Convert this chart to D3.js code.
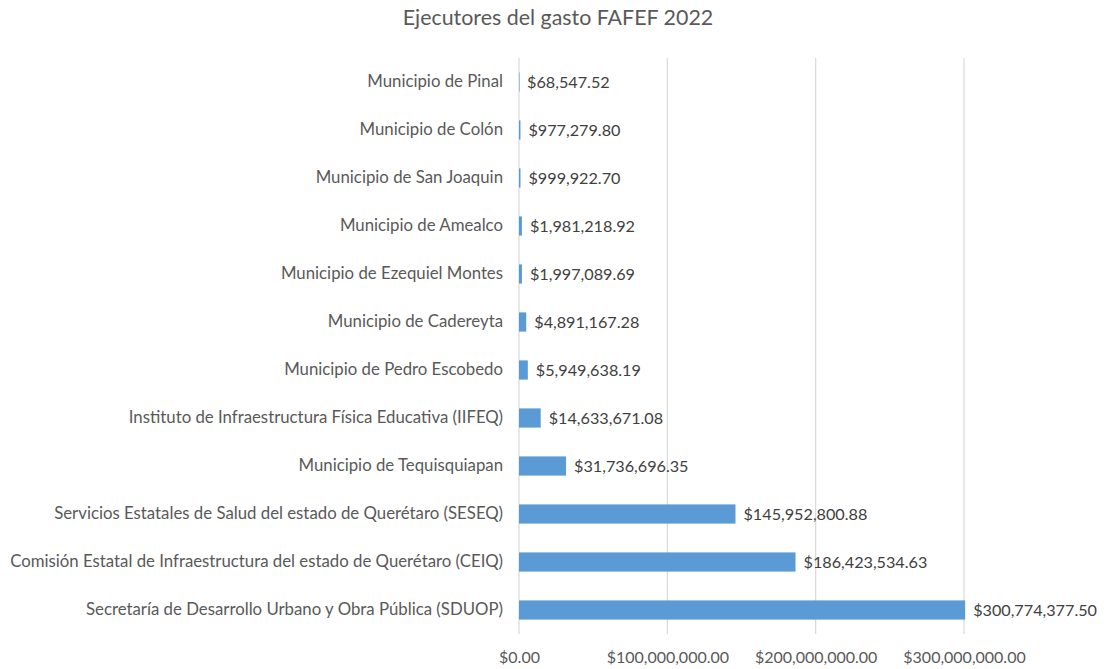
<!DOCTYPE html>
<html>
<head>
<meta charset="utf-8">
<script src="https://cdn.jsdelivr.net/npm/d3@7"></script>
<style>
  body { margin: 0; background: #fff; }
  svg { font-family: Lato, "Open Sans", sans-serif; }
</style>
</head>
<body>
<svg id="chart"></svg>
<script>
const categories = [
  "Municipio de Pinal",
  "Municipio de Colón",
  "Municipio de San Joaquin",
  "Municipio de Amealco",
  "Municipio de Ezequiel Montes",
  "Municipio de Cadereyta",
  "Municipio de Pedro Escobedo",
  "Instituto de Infraestructura Física Educativa (IIFEQ)",
  "Municipio de Tequisquiapan",
  "Servicios Estatales de Salud del estado de Querétaro (SESEQ)",
  "Comisión Estatal de Infraestructura del estado de Querétaro (CEIQ)",
  "Secretaría de Desarrollo Urbano y Obra Pública (SDUOP)"
];
const values = [
  68547.52, 977279.80, 999922.70, 1981218.92, 1997089.69, 4891167.28,
  5949638.19, 14633671.08, 31736696.35, 145952800.88, 186423534.63, 300774377.50
];
const xTicks = [0, 100000000, 200000000, 300000000];

const W = 1107, H = 669;
const margin = { top: 58, left: 519, right: 0, bottom: 35 };
const plotRight = 964;

const svg = d3.select("#chart").attr("width", W).attr("height", H);

const x = d3.scaleLinear().domain([0, 300000000]).range([margin.left, plotRight]);
const y = d3.scaleBand().domain(categories).range([margin.top, H - margin.bottom])
  .paddingInner(0.6).paddingOuter(0.3);

const money = d3.format(",.2f");

svg.append("text")
  .attr("x", 558).attr("y", 25)
  .attr("text-anchor", "middle")
  .attr("font-size", 21.4)
  .attr("fill", "#595959")
  .text("Ejecutores del gasto FAFEF 2022");

// gridlines
svg.append("g")
  .selectAll("line")
  .data(xTicks)
  .join("line")
  .attr("x1", d => x(d)).attr("x2", d => x(d))
  .attr("y1", margin.top).attr("y2", H - margin.bottom)
  .attr("stroke", "#d9d9d9").attr("stroke-width", 1.2);

// x axis labels
const xAxis = d3.axisBottom(x).tickValues(xTicks).tickSize(0).tickPadding(0)
  .tickFormat(d => "$" + money(d));
const gx = svg.append("g")
  .attr("transform", `translate(0,${H - 6})`)
  .call(xAxis);
gx.select(".domain").remove();
gx.selectAll("text").attr("font-size", 16).attr("fill", "#595959")
  .attr("font-family", "Lato, 'Open Sans', sans-serif").attr("dy", 0);

// category labels
const yAxis = d3.axisLeft(y).tickSize(0).tickPadding(16);
const gy = svg.append("g")
  .attr("transform", `translate(${margin.left},0)`)
  .call(yAxis);
gy.select(".domain").remove();
gy.selectAll("text").attr("font-size", 16.8).attr("fill", "#595959")
  .attr("font-family", "Lato, 'Open Sans', sans-serif");

// bars
svg.append("g")
  .selectAll("rect")
  .data(values)
  .join("rect")
  .attr("x", x(0))
  .attr("y", (d, i) => y(categories[i]))
  .attr("width", d => Math.max(x(d) - x(0), 0.5))
  .attr("height", y.bandwidth())
  .attr("fill", "#5B9BD5");

// value labels
svg.append("g")
  .selectAll("text")
  .data(values)
  .join("text")
  .attr("x", d => x(d) + 8)
  .attr("y", (d, i) => y(categories[i]) + y.bandwidth() / 2)
  .attr("dy", "0.35em")
  .attr("font-size", 16.2)
  .attr("fill", "#404040")
  .text(d => "$" + money(d));
</script>
</body>
</html>
